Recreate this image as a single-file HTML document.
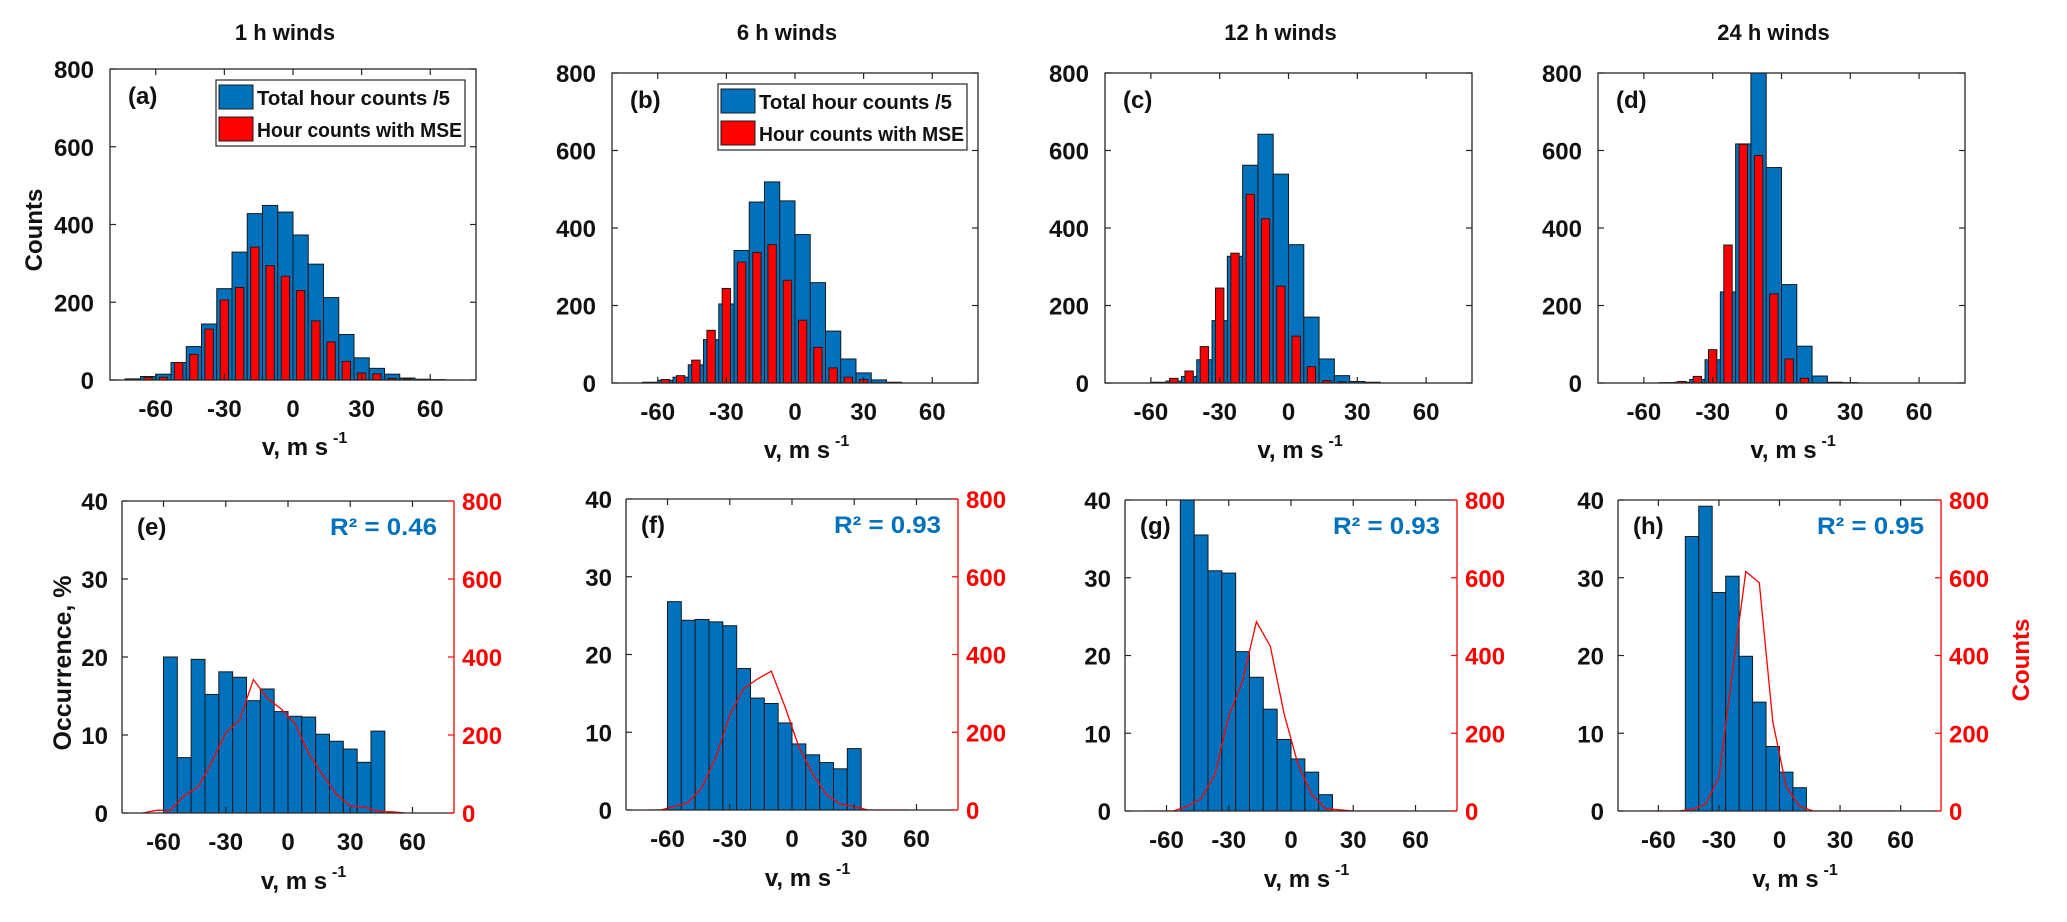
<!DOCTYPE html>
<html><head><meta charset="utf-8">
<style>
html,body{margin:0;padding:0;background:#fff;}
svg text{font-family:"Liberation Sans",sans-serif;font-weight:bold;}
</style></head>
<body>
<svg id="fig" width="2067" height="917" viewBox="0 0 2067 917" xmlns="http://www.w3.org/2000/svg">
<rect width="2067" height="917" fill="#fff"/>
</svg>
<script>
// ---- data ----
const binCenters = [-70,-63.33,-56.67,-50,-43.33,-36.67,-30,-23.33,-16.67,-10,-3.33,3.33,10,16.67,23.33,30,36.67,43.33,50,56.67,63.33,70,76.67];
const binWidth = 6.667;
const xTicks = [-60,-30,0,30,60];
const countTicks = [0,200,400,600,800];
const occTicks = [0,10,20,30,40];
const durations = ["1 h winds","6 h winds","12 h winds","24 h winds"];
const topLetters = ["(a)","(b)","(c)","(d)"];
const botLetters = ["(e)","(f)","(g)","(h)"];
const r2Labels = ["0.46","0.93","0.93","0.95"];
const blue1 = [3,9,15,45,86,144,235,329,428,449,432,373,298,212,117,57,30,15,5,2,1,0,0];
const red1  = [0,7,7,45,66,131,206,238,342,294,267,230,152,98,48,18,16,4,3,0,0,0,0];
const blue6 = [0,2,7,15,47,112,204,342,467,519,470,383,259,134,62,26,8,2,0,0,0,0,0];
const red6  = [0,0,9,19,59,136,244,312,337,357,265,162,92,39,15,9,0,0,0,0,0,0,0];
const blue12= [0,0,2,5,17,60,161,327,562,642,539,357,170,62,19,4,2,0,0,0,0,0,0];
const red12 = [0,0,0,12,31,94,245,335,487,424,250,121,42,6,3,0,0,0,0,0,0,0,0];
const blue24= [0,0,0,1,2,9,60,235,617,830,556,254,95,18,2,1,0,0,0,0,0,0,0];
const red24 = [0,0,0,0,4,17,86,356,616,587,230,62,12,0,0,0,0,0,0,0,0,0,0];
const occ1  = [null,null,20.0,7.1,19.7,15.2,18.1,17.4,14.4,15.9,13.0,12.4,12.3,10.1,9.2,8.2,6.5,10.5,null,null,null,null,null];
const occ6  = [null,null,26.8,24.4,24.5,24.2,23.7,18.2,14.4,13.7,11.2,8.5,7.1,6.1,5.3,7.9,null,null,null,null,null,null,null];
const occ12 = [null,null,null,42,35.5,30.9,30.6,20.5,17.2,13.1,9.2,6.7,5.0,2.1,null,null,null,null,null,null,null,null,null];
const occ24 = [null,null,null,null,35.3,39.2,28.1,30.2,19.9,14.0,8.3,5.0,3.0,null,null,null,null,null,null,null,null,null,null];

const blueSets = [blue1,blue6,blue12,blue24];
const redSets = [red1,red6,red12,red24];
const occSets = [occ1,occ6,occ12,occ24];

// ---- layout ----
const topBoxes = [[110,476,69,380],[612,978,73,383],[1105,1472,73,383],[1598,1965,73,383]];
const botBoxes = [[122,454,501,813],[626,958,499,810],[1125,1457,500,811],[1618,1941,500,811]];
const BLUE="#0072BD", RED="#FF0000", AX="#262626";
const NS="http://www.w3.org/2000/svg";
const svg=document.getElementById('fig');
function mk(tag,attrs,parent){const e=document.createElementNS(NS,tag);for(const k in attrs)e.setAttribute(k,attrs[k]);(parent||svg).appendChild(e);return e;}
function txt(s,attrs,parent){const e=mk('text',attrs,parent);e.textContent=s;return e;}

// clip paths
const defs=mk('defs',{});
function clip(id,b){const c=mk('clipPath',{id:id},defs);mk('rect',{x:b[0],y:b[2],width:b[1]-b[0],height:b[3]-b[2]},c);}

function xLabel(g,cx,y){
  const t=txt('v, m s',{x:cx-8,y:y,'font-size':24,'text-anchor':'middle',fill:'#111'},g);
  
  
  const s=txt('-1',{x:cx+30,y:y-12,'font-size':16,fill:'#111'},g);
  
  
}

for(let p=0;p<4;p++){
  // ===== top panel =====
  const b=topBoxes[p];
  const [x0,x1,y0,y1]=b;
  const xs=v=>x0+(v+80)/160*(x1-x0);
  const ys=c=>y1-c/800*(y1-y0);
  const g=mk('g',{});
  
  
  clip('ct'+p,b);
  const bars=mk('g',{'clip-path':'url(#ct'+p+')'},g);
  const blue=blueSets[p], red=redSets[p];
  const pw=(x1-x0)/160;
  for(let k=0;k<binCenters.length;k++){
    if(blue[k]>0){
      const r=mk('rect',{x:xs(binCenters[k]-binWidth/2),y:ys(blue[k]),width:binWidth*pw,height:y1-ys(blue[k]),fill:BLUE,stroke:'#1a1a1a','stroke-width':1},bars);
      
      
    }
  }
  for(let k=0;k<binCenters.length;k++){
    if(red[k]>0){
      const w=binWidth*0.55;
      const r=mk('rect',{x:xs(binCenters[k]-w/2),y:ys(red[k]),width:w*pw,height:y1-ys(red[k]),fill:RED,stroke:'#1a1a1a','stroke-width':1},bars);
      
      
    }
  }
  mk('rect',{x:x0,y:y0,width:x1-x0,height:y1-y0,fill:'none',stroke:AX,'stroke-width':1.3},g);
  xTicks.forEach(v=>{
    mk('line',{x1:xs(v),x2:xs(v),y1:y1,y2:y1-6,stroke:AX,'stroke-width':1.2},g);
    mk('line',{x1:xs(v),x2:xs(v),y1:y0,y2:y0+6,stroke:AX,'stroke-width':1.2},g);
    const t=txt(String(v),{x:xs(v),y:y1+37,'font-size':24,'text-anchor':'middle',fill:'#111'},g);
    
    
  });
  countTicks.forEach(v=>{
    mk('line',{x1:x0,x2:x0+6,y1:ys(v),y2:ys(v),stroke:AX,'stroke-width':1.2},g);
    mk('line',{x1:x1,x2:x1-6,y1:ys(v),y2:ys(v),stroke:AX,'stroke-width':1.2},g);
    const t=txt(String(v),{x:x0-16,y:ys(v)+9,'font-size':24,'text-anchor':'end',fill:'#111'},g);
    
    
  });
  const L=txt(topLetters[p],{x:x0+18,y:y0+35,'font-size':24,fill:'#111'},g);
  
  
  const T=txt(durations[p],{x:(x0+x1)/2-8,y:40,'font-size':22,'text-anchor':'middle',fill:'#111'},g);
  
  
  xLabel(g,(x0+x1)/2+10,y1+75);
  if(p<2){
    const lg=mk('g',{},g);
    
    
    const lx=x1-260, ly=y0+11;
    mk('rect',{x:lx,y:ly,width:249,height:66,fill:'#fff',stroke:AX,'stroke-width':1.2},lg);
    const e1=mk('rect',{x:lx+3,y:ly+5,width:34,height:24,fill:BLUE,stroke:'#1a1a1a','stroke-width':1},lg);
    
    
    const e2=mk('rect',{x:lx+3,y:ly+37,width:34,height:24,fill:RED,stroke:'#1a1a1a','stroke-width':1},lg);
    
    
    const t1=txt('Total hour counts /5',{x:lx+41,y:ly+25,'font-size':20,textLength:193,lengthAdjust:'spacingAndGlyphs',fill:'#111'},lg);
    
    
    const t2=txt('Hour counts with MSE',{x:lx+41,y:ly+57,'font-size':20,textLength:205,lengthAdjust:'spacingAndGlyphs',fill:'#111'},lg);
    
    
  }

  // ===== bottom panel =====
  const c=botBoxes[p];
  const [u0,u1,v0,v1]=c;
  const xb=v=>u0+(v+80)/160*(u1-u0);
  const yo=o=>v1-o/40*(v1-v0);
  const yc=n=>v1-n/800*(v1-v0);
  const h=mk('g',{});
  
  
  clip('cb'+p,c);
  const bb=mk('g',{'clip-path':'url(#cb'+p+')'},h);
  const occ=occSets[p];
  const qw=(u1-u0)/160;
  for(let k=0;k<binCenters.length;k++){
    if(occ[k]!==null){
      const r=mk('rect',{x:xb(binCenters[k]-binWidth/2),y:yo(occ[k]),width:binWidth*qw,height:v1-yo(occ[k]),fill:BLUE,stroke:'#1a1a1a','stroke-width':1},bb);
      
      
    }
  }
  let d='';
  for(let k=0;k<=19;k++){d+=(k?'L':'M')+xb(binCenters[k]).toFixed(1)+','+yc(red[k]).toFixed(1);}
  const ln=mk('path',{d:d,fill:'none',stroke:RED,'stroke-width':1.3},bb);
  
  
  mk('line',{x1:u0,x2:u1,y1:v0,y2:v0,stroke:AX,'stroke-width':1.3},h);
  mk('line',{x1:u0,x2:u1,y1:v1,y2:v1,stroke:AX,'stroke-width':1.3},h);
  mk('line',{x1:u0,x2:u0,y1:v0,y2:v1,stroke:AX,'stroke-width':1.3},h);
  mk('line',{x1:u1,x2:u1,y1:v0,y2:v1,stroke:RED,'stroke-width':1.3},h);
  xTicks.forEach(v=>{
    mk('line',{x1:xb(v),x2:xb(v),y1:v1,y2:v1-6,stroke:AX,'stroke-width':1.2},h);
    mk('line',{x1:xb(v),x2:xb(v),y1:v0,y2:v0+6,stroke:AX,'stroke-width':1.2},h);
    const t=txt(String(v),{x:xb(v),y:v1+37,'font-size':24,'text-anchor':'middle',fill:'#111'},h);
    
    
  });
  occTicks.forEach(v=>{
    mk('line',{x1:u0,x2:u0+6,y1:yo(v),y2:yo(v),stroke:AX,'stroke-width':1.2},h);
    const t=txt(String(v),{x:u0-14,y:yo(v)+9,'font-size':24,'text-anchor':'end',fill:'#111'},h);
    
    
  });
  countTicks.forEach(v=>{
    mk('line',{x1:u1,x2:u1-6,y1:yc(v),y2:yc(v),stroke:RED,'stroke-width':1.2},h);
    const t=txt(String(v),{x:u1+8,y:yc(v)+9,'font-size':24,fill:RED},h);
    
    
  });
  const L2=txt(botLetters[p],{x:u0+15,y:v0+34,'font-size':24,fill:'#111'},h);
  
  
  const R=txt('R² = '+r2Labels[p],{x:u1-17,y:v0+34,'font-size':24,'text-anchor':'end',fill:BLUE,textLength:107,lengthAdjust:'spacingAndGlyphs'},h);
  
  
  xLabel(h,(u0+u1)/2+14,v1+76);
}
const yl1=txt('Counts',{x:0,y:0,'font-size':24,'text-anchor':'middle',fill:'#111',transform:'translate(42,230) rotate(-90)'});


const yl2=txt('Occurrence, %',{x:0,y:0,'font-size':25,'text-anchor':'middle',fill:'#111',transform:'translate(71,663) rotate(-90)'});


const yl3=txt('Counts',{x:0,y:0,'font-size':24,'text-anchor':'middle',fill:RED,transform:'translate(2029,660) rotate(-90)'});


</script>
</body></html>
